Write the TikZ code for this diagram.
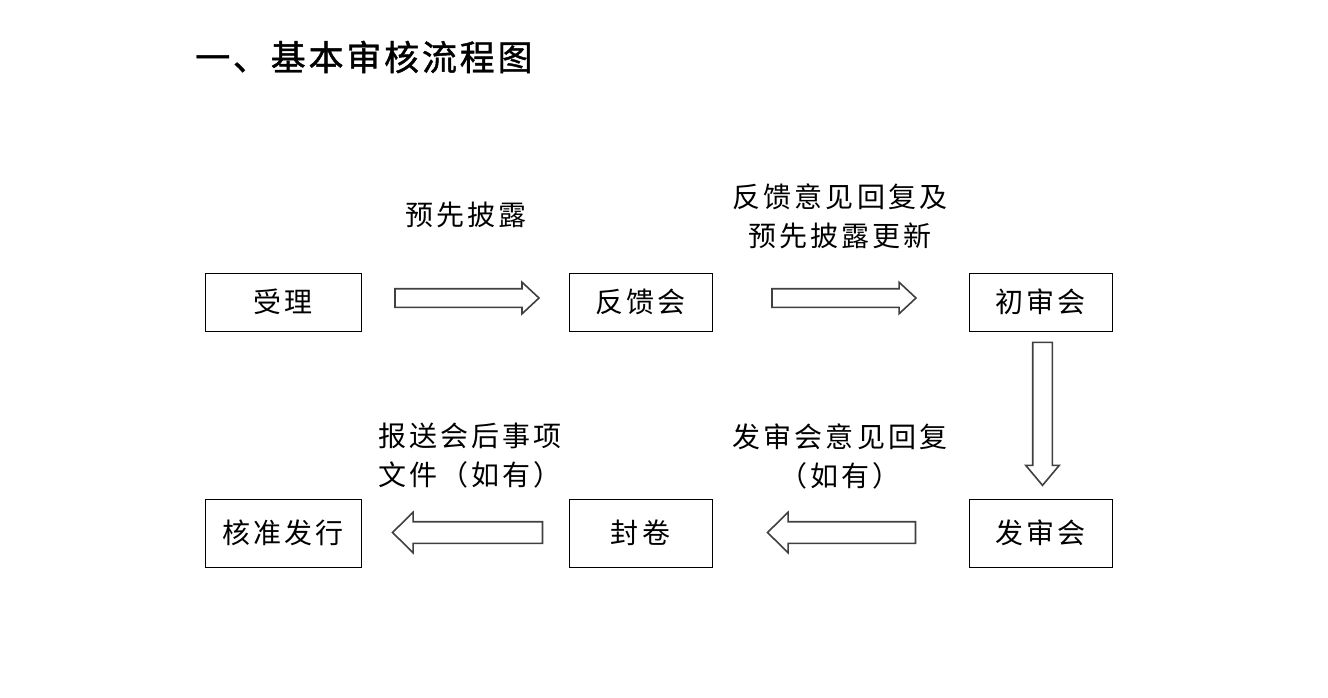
\documentclass[tikz,border=0pt]{standalone}
\usepackage{fontspec}
\usepackage{tikz}
\usetikzlibrary{shapes.arrows}
\newfontfamily\cjk[LetterSpace=11]{Noto Sans CJK SC}
\newfontfamily\titlefont[FakeBold=1.2,LetterSpace=8]{Noto Sans CJK SC}

\tikzset{
  box/.style={draw, line width=1pt, minimum width=143pt, minimum height=58pt,
    inner sep=0pt, font=\cjk\fontsize{28}{39}\selectfont},
  lbl/.style={inner sep=0pt, font=\cjk\fontsize{28}{39}\selectfont},
  blockarrow/.style={single arrow, draw=black!75, line width=1.6pt, fill=white,
    inner xsep=0pt, inner ysep=8.5pt, minimum width=30pt, single arrow head extend=6.5pt,
    single arrow tip angle=86, single arrow head indent=0pt, minimum height=144pt},
  bigarrow/.style={blockarrow, inner ysep=10pt, minimum width=39pt, single arrow head extend=9.5pt,
    single arrow tip angle=89, minimum height=148pt}
}

\begin{document}
\begin{tikzpicture}[x=1pt, y=-1pt]
\useasboundingbox (0,0) rectangle (1328,698);

\node[anchor=west, inner sep=0pt, font=\titlefont\fontsize{35}{40}\selectfont] (title) at (195,57) {一、基本审核流程图};

% upper row
\node[box, minimum width=156pt] (shouli) at (283,302) {受理};
\node[box] (fankui) at (640.5,302) {反馈会};
\node[box] (chushen) at (1040.5,302) {初审会};

% lower row
\node[box, minimum width=156pt, minimum height=68pt] (hezhun) at (283,533) {核准发行};
\node[box, minimum height=68pt] (fengjuan) at (640.5,533) {封卷};
\node[box, minimum height=68pt] (fashen) at (1040.5,533) {发审会};

\node[blockarrow] (a1) at (462,298) {};
\node[blockarrow] (a2) at (839,298) {};
\node[blockarrow, rotate=-90, inner ysep=9pt, minimum width=32pt, single arrow head extend=7pt,
  single arrow tip angle=80, minimum height=143pt] (a3) at (1042.5,408) {};
\node[bigarrow, rotate=180] (a4) at (847,532.5) {};
\node[bigarrow, rotate=180, minimum height=150pt] (a5) at (473,532.5) {};

\node[lbl] (l1) at (466,215) {预先披露};
\node[lbl, align=center] (l2) at (840,216) {反馈意见回复及\\预先披露更新};
\node[lbl, align=center] (l3) at (840,456) {发审会意见回复\\（如有）};
\node[lbl, align=left, anchor=west] (l4) at (378,456) {报送会后事项\\文件（如有）};
\end{tikzpicture}
\end{document}
